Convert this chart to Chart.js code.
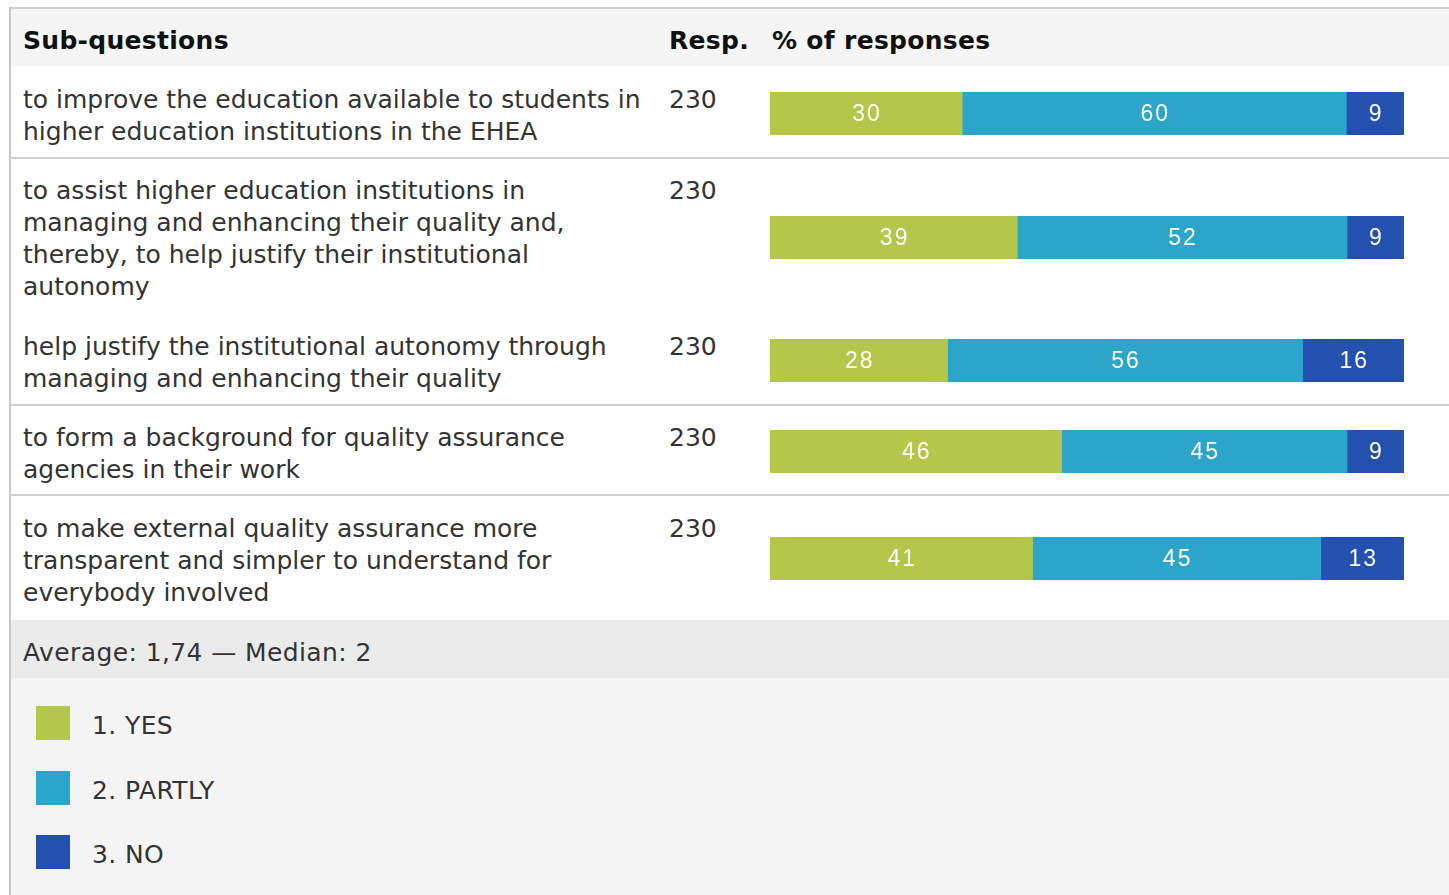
<!DOCTYPE html>
<html><head><meta charset="utf-8">
<script src="https://cdn.jsdelivr.net/npm/chart.js@4"></script>
<style>
html,body{margin:0;padding:0;background:#fff;}
body{width:1449px;height:895px;position:relative;overflow:hidden;font-family:"DejaVu Sans",Verdana,sans-serif;color:#333;}
.abs{position:absolute;white-space:nowrap;}
.txt{font-size:25px;line-height:32px;}
.wide{letter-spacing:0.4px;}
.hdr{font-size:25px;font-weight:bold;color:#111;line-height:32px;letter-spacing:0.3px;}
.hline{position:absolute;left:10px;right:0;height:2px;background:#cfcfcf;}
</style></head><body>
<div class="abs" style="left:10px;top:7px;right:0;height:2px;background:#cfcfcf"></div>
<div class="abs" style="left:10px;top:9px;right:0;height:57px;background:#f5f5f5"></div>
<div class="abs" style="left:10px;top:620px;right:0;height:58px;background:#ebebeb"></div>
<div class="abs" style="left:10px;top:678px;right:0;bottom:0;background:#f4f4f4"></div>
<div class="abs" style="left:9px;top:7px;width:2px;bottom:0;background:#c8c8c8"></div>
<div class="hline" style="top:157px"></div>
<div class="hline" style="top:404px"></div>
<div class="hline" style="top:494px"></div>
<div id="root"></div>
<script>
const categories = [
  "to improve the education available to students in\nhigher education institutions in the EHEA",
  "to assist higher education institutions in\nmanaging and enhancing their quality and,\nthereby, to help justify their institutional\nautonomy",
  "help justify the institutional autonomy through\nmanaging and enhancing their quality",
  "to form a background for quality assurance\nagencies in their work",
  "to make external quality assurance more\ntransparent and simpler to understand for\neverybody involved"
];
const responses = [230, 230, 230, 230, 230];
const yesValues = [30, 39, 28, 46, 41];
const partlyValues = [60, 52, 56, 45, 45];
const noValues = [9, 9, 16, 9, 13];
const seriesNames = ["1. YES", "2. PARTLY", "3. NO"];
const seriesColors = ["#b5c74b", "#2ca5cb", "#2451b0"];
const headers = ["Sub-questions", "Resp.", "% of responses"];
const summaryText = "Average: 1,74 \u2014 Median: 2";

// layout
const textTops = [84, 175, 331, 422, 513];
const barTops = [92, 216, 339, 430, 537];
const root = document.getElementById('root');
function add(html, style, cls){const d=document.createElement('div');d.className='abs '+(cls||'');d.setAttribute('style',style);d.innerHTML=html;root.appendChild(d);return d;}
add(headers[0],'left:23px;top:25px','hdr');
add(headers[1],'left:669px;top:25px','hdr');
add(headers[2],'left:772px;top:25px','hdr');
add(summaryText,'left:23px;top:637px','txt wide');
seriesNames.forEach((n,i)=>{
  add('', 'left:36px;top:'+(706+i*64.5)+'px;width:34px;height:34px;background:'+seriesColors[i]);
  add(n,'left:92px;top:'+(710+i*64.5)+'px','txt wide');
});
const labelPlugin = {
  id:'segLabels',
  afterDatasetsDraw(chart){
    const ctx=chart.ctx;ctx.save();
    ctx.fillStyle='#ffffff';ctx.textAlign='center';ctx.textBaseline='middle';
    ctx.font='23px "Liberation Sans Narrow","Arial Narrow","Liberation Sans",sans-serif';
    try{ctx.letterSpacing='2px';}catch(e){}
    chart.data.datasets.forEach((ds,di)=>{
      chart.getDatasetMeta(di).data.forEach((el,i)=>{
        const v=ds.data[i];
        const x=(el.x+el.base)/2;
        ctx.fillText(String(v),x+1,el.y+1.5);
      });
    });
    ctx.restore();
  }
};
categories.forEach((cat,r)=>{
  add(cat.split('\n').join('<br>'),'left:23px;top:'+textTops[r]+'px','txt');
  add(String(responses[r]),'left:669px;top:'+textTops[r]+'px','txt');
  const box=add('<canvas></canvas>','left:770px;top:'+barTops[r]+'px;width:634px;height:43px');
  const vals=[yesValues[r],partlyValues[r],noValues[r]];
  const total=vals.reduce((a,b)=>a+b,0);
  new Chart(box.querySelector('canvas'),{
    type:'bar',
    data:{labels:[cat],datasets:seriesNames.map((n,i)=>({label:n,data:[vals[i]],backgroundColor:seriesColors[i],borderWidth:0,barPercentage:1,categoryPercentage:1}))},
    options:{indexAxis:'y',responsive:true,maintainAspectRatio:false,animation:false,
      layout:{padding:0},
      plugins:{legend:{display:false},tooltip:{enabled:false}},
      scales:{x:{stacked:true,display:false,min:0,max:total},y:{stacked:true,display:false}}},
    plugins:[labelPlugin]
  });
});
</script>
</body></html>
